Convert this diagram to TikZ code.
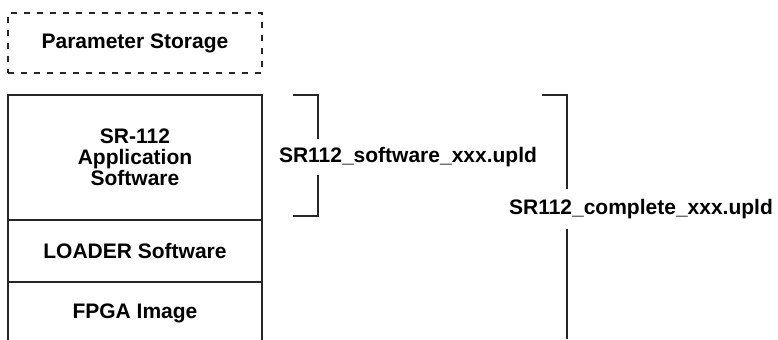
\documentclass[tikz,border=0pt]{standalone}
\usepackage{fontspec}
\setmainfont{Liberation Sans}
\usetikzlibrary{positioning}
\begin{document}
\begin{tikzpicture}[x=0.5pt, y=0.5pt,
        layer/.style={draw=black!85, line width=0.8pt, minimum width=127pt, inner sep=0pt, outer sep=0pt, align=center, font=\bfseries\fontsize{10.5}{10.5}\selectfont},
        storage/.style={layer, dash pattern=on 3pt off 3.5pt, line width=0.7pt},
        filename/.style={font=\bfseries\fontsize{10.5}{12}\selectfont, inner xsep=0pt, inner ysep=4pt},
        bracket/.style={draw=black!85, line width=0.8pt}]
        \useasboundingbox (0,0) rectangle (778,339);

        \node [storage, minimum height=30pt] (param) at (135,296) {Parameter Storage};
        \node [layer, minimum height=62.5pt] (app) at (135,181.5) {SR-112\\Application\\Software};
        \node [layer, minimum height=31pt, below=0pt of app] (loader) {LOADER Software};
        \node [layer, minimum height=31pt, below=0pt of loader] (fpga) {FPGA Image};

        \node [filename] (swfile) at (408,182) {SR112\_software\_xxx.upld};
        \node [filename, inner ysep=5pt] (allfile) at (641,130) {SR112\_complete\_xxx.upld};

        \coordinate (swtop) at (293,244);
        \coordinate (swbot) at (293,123);
        \coordinate (alltop) at (542,244);
        \coordinate (allbot) at (567,0);

        \draw [bracket] (swtop) -- ++(25,0) -- (318,0 |- swfile.north);
        \draw [bracket] (swbot) -- ++(25,0) -- (318,0 |- swfile.south);
        \draw [bracket] (alltop) -- ++(25,0) -- (567,0 |- allfile.north);
        \draw [bracket] (allbot) -- (567,0 |- allfile.south);
    \end{tikzpicture}
\end{document}
